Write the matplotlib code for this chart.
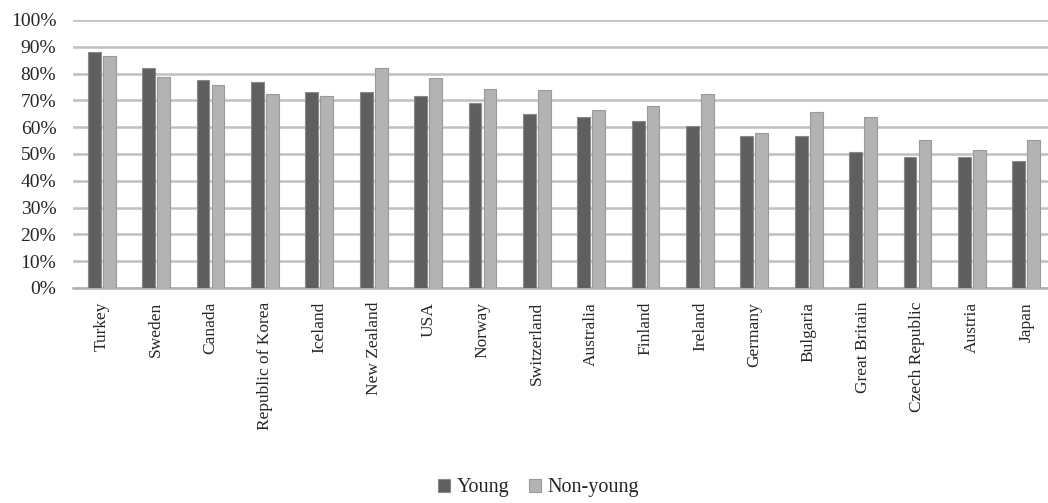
import numpy as np
import matplotlib.pyplot as plt
from matplotlib.ticker import PercentFormatter

countries = ['Turkey', 'Sweden', 'Canada', 'Republic of Korea', 'Iceland', 'New Zealand',
             'USA', 'Norway', 'Switzerland', 'Australia', 'Finland', 'Ireland', 'Germany',
             'Bulgaria', 'Great Britain', 'Czech Republic', 'Austria', 'Japan']
young = [88.0, 82.0, 77.6, 76.9, 73.1, 73.1, 71.7, 69.0, 65.1, 63.8, 62.5, 60.6, 56.6,
         56.6, 50.7, 48.8, 48.8, 47.5]
non_young = [86.6, 78.8, 75.7, 72.3, 71.7, 82.2, 78.3, 74.3, 73.7, 66.6, 67.8, 72.3, 58.0,
             65.8, 63.8, 55.4, 51.4, 55.4]

plt.rcParams['font.family'] = ['Liberation Serif', 'DejaVu Serif']

fig = plt.figure(figsize=(10.48, 5.03), dpi=100)
ax = fig.add_axes([73/1048, 1-288/503, 1-73/1048, (288-20)/503])

x = np.arange(len(countries))
w = 0.235
ax.bar(x - 0.5*w - 0.02, young, w, color='#5f5f5f', edgecolor='#8a8a8a', linewidth=0.8,
       label='Young', zorder=3)
ax.bar(x + 0.5*w + 0.02, non_young, w, color='#b3b3b3', edgecolor='#9a9a9a', linewidth=0.8,
       label='Non-young', zorder=3)

ax.set_ylim(0, 100)
ax.set_xlim(-0.53, 17.4)
ax.set_yticks(np.arange(0, 101, 10))
ax.yaxis.set_major_formatter(PercentFormatter(decimals=0))
ax.grid(axis='y', color='#c0c0c0', linewidth=1.8, zorder=0)
ax.set_axisbelow(True)
for s in ['top', 'right', 'left']:
    ax.spines[s].set_visible(False)
ax.spines['bottom'].set_color('#b0b0b0')
ax.spines['bottom'].set_linewidth(1.8)
ax.tick_params(axis='y', length=0, labelsize=14, colors='#262626', pad=12)
ax.tick_params(axis='x', length=0, labelsize=12.5, colors='#262626', pad=10)
ax.set_xticks(x)
ax.set_xticklabels(countries, rotation=90)

fig.legend(loc='lower center', bbox_to_anchor=(0.514, -0.025), ncol=2, frameon=False,
           fontsize=14.5, handlelength=0.6, handleheight=0.6, handletextpad=0.3,
           columnspacing=1.0, labelcolor='#262626')

fig.savefig('out.png', dpi=100)
